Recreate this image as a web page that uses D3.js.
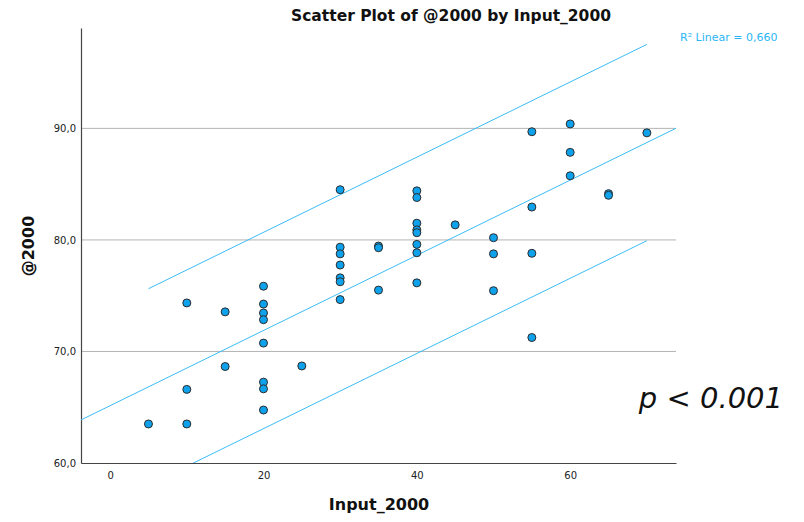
<!DOCTYPE html>
<html>
<head>
<meta charset="utf-8">
<script src="https://cdn.jsdelivr.net/npm/d3@7"></script>
<style>
  html, body { margin: 0; padding: 0; background: #fff; }
  svg { display: block; }
</style>
</head>
<body>
<svg id="chart" width="804" height="522"></svg>
<script>
// Input_2000 values (x) and matching @2000 values (y)
const inputX = [
  5,
  10, 10, 10,
  15, 15,
  20, 20, 20, 20, 20, 20, 20, 20,
  25,
  30, 30, 30, 30, 30, 30, 30,
  35, 35, 35,
  40, 40, 40, 40, 40, 40, 40, 40,
  45,
  50, 50, 50,
  55, 55, 55, 55,
  60, 60, 60,
  65, 65,
  70
];
const outputY = [
  63.5,
  74.35, 66.6, 63.5,
  73.55, 68.65,
  75.85, 74.25, 73.45, 72.85, 70.75, 67.25, 66.65, 64.75,
  68.7,
  84.5, 79.35, 78.75, 77.75, 76.6, 76.25, 74.65,
  79.45, 79.3, 75.5,
  84.4, 83.8, 81.5, 80.9, 80.65, 79.6, 78.85, 76.15,
  81.35,
  80.2, 78.75, 75.45,
  89.7, 82.95, 78.8, 71.25,
  90.4, 87.85, 85.75,
  84.15, 84.0,
  89.6
];

// Linear fit and its prediction band
const fitIntercept = 65.14;
const fitSlope = 0.337;
const bandHalfWidth = 8.8;
const rSquaredLabel = "R\u00B2 Linear = 0,660";

const xTicks = [0, 20, 40, 60];
const yTicks = [60, 70, 80, 90];
const xDomain = [-3.8, 73.8];
const yDomain = [60, 99];

const svg = d3.select("#chart");
const plot = { left: 81, right: 676, top: 28, bottom: 463 };

const x = d3.scaleLinear().domain(xDomain).range([plot.left, plot.right]);
const y = d3.scaleLinear().domain(yDomain).range([plot.bottom, plot.top]);

const font = "'DejaVu Sans', Verdana, sans-serif";

svg.append("defs").append("clipPath").attr("id", "plotClip")
  .append("rect")
  .attr("x", plot.left).attr("y", plot.top)
  .attr("width", plot.right - plot.left).attr("height", plot.bottom - plot.top);

// horizontal grid lines
svg.append("g")
  .selectAll("line")
  .data(yTicks.filter(d => d > yDomain[0]))
  .join("line")
  .attr("x1", plot.left).attr("x2", plot.right)
  .attr("y1", d => y(d)).attr("y2", d => y(d))
  .attr("stroke", "#b4b4b4").attr("stroke-width", 1);

// axes
const yAxis = d3.axisLeft(y).tickValues(yTicks).tickSize(0).tickPadding(5)
  .tickFormat(d => d3.format(".1f")(d).replace(".", ","));
const gy = svg.append("g").attr("transform", `translate(${plot.left},0)`).call(yAxis);
gy.select(".domain").attr("stroke", "#444").attr("stroke-width", 1.2);
gy.selectAll("text").attr("font-family", font).attr("font-size", 10).attr("fill", "#222");

const xAxis = d3.axisBottom(x).tickValues(xTicks).tickSize(0).tickPadding(9);
const gx = svg.append("g").attr("transform", `translate(0,${plot.bottom})`).call(xAxis);
gx.select(".domain").attr("stroke", "#444").attr("stroke-width", 1.2);
gx.selectAll("text").attr("font-family", font).attr("font-size", 10).attr("fill", "#222");

// fit line and prediction band
const lines = svg.append("g").attr("clip-path", "url(#plotClip)");
const xMin = d3.min(inputX), xMax = d3.max(inputX);
const fit = v => fitIntercept + fitSlope * v;
const lineGen = d3.line().x(d => x(d[0])).y(d => y(d[1]));
const lineColor = "#3cbcf6";

lines.append("path")
  .attr("d", lineGen([[xDomain[0], fit(xDomain[0])], [xDomain[1], fit(xDomain[1])]]))
  .attr("fill", "none").attr("stroke", lineColor).attr("stroke-width", 1);
[bandHalfWidth, -bandHalfWidth].forEach(off => {
  lines.append("path")
    .attr("d", lineGen([[xMin, fit(xMin) + off], [xMax, fit(xMax) + off]]))
    .attr("fill", "none").attr("stroke", lineColor).attr("stroke-width", 1);
});

// data points
svg.append("g")
  .selectAll("circle")
  .data(inputX.map((v, i) => [v, outputY[i]]))
  .join("circle")
  .attr("cx", d => x(d[0]))
  .attr("cy", d => y(d[1]))
  .attr("r", 4)
  .attr("fill", "#0fa2ec")
  .attr("stroke", "#2b2b2b")
  .attr("stroke-width", 1);

// titles
svg.append("text")
  .attr("x", 451).attr("y", 21)
  .attr("text-anchor", "middle")
  .attr("font-family", font).attr("font-weight", "bold").attr("font-size", 15.5)
  .attr("fill", "#111")
  .text("Scatter Plot of @2000 by Input_2000");

svg.append("text")
  .attr("x", 379).attr("y", 510)
  .attr("text-anchor", "middle")
  .attr("font-family", font).attr("font-weight", "bold").attr("font-size", 16)
  .attr("fill", "#111")
  .text("Input_2000");

svg.append("text")
  .attr("transform", "translate(34,246) rotate(-90)")
  .attr("text-anchor", "middle")
  .attr("font-family", font).attr("font-weight", "bold").attr("font-size", 16)
  .attr("fill", "#111")
  .text("@2000");

svg.append("text")
  .attr("x", 680).attr("y", 41)
  .attr("font-family", font).attr("font-size", 11)
  .attr("fill", "#2ab6f5")
  .text(rSquaredLabel);

svg.append("text")
  .attr("x", 783).attr("y", 408)
  .attr("text-anchor", "end")
  .attr("font-family", font).attr("font-style", "italic").attr("font-size", 29)
  .attr("fill", "#111")
  .text("p < 0.001");
</script>
</body>
</html>
